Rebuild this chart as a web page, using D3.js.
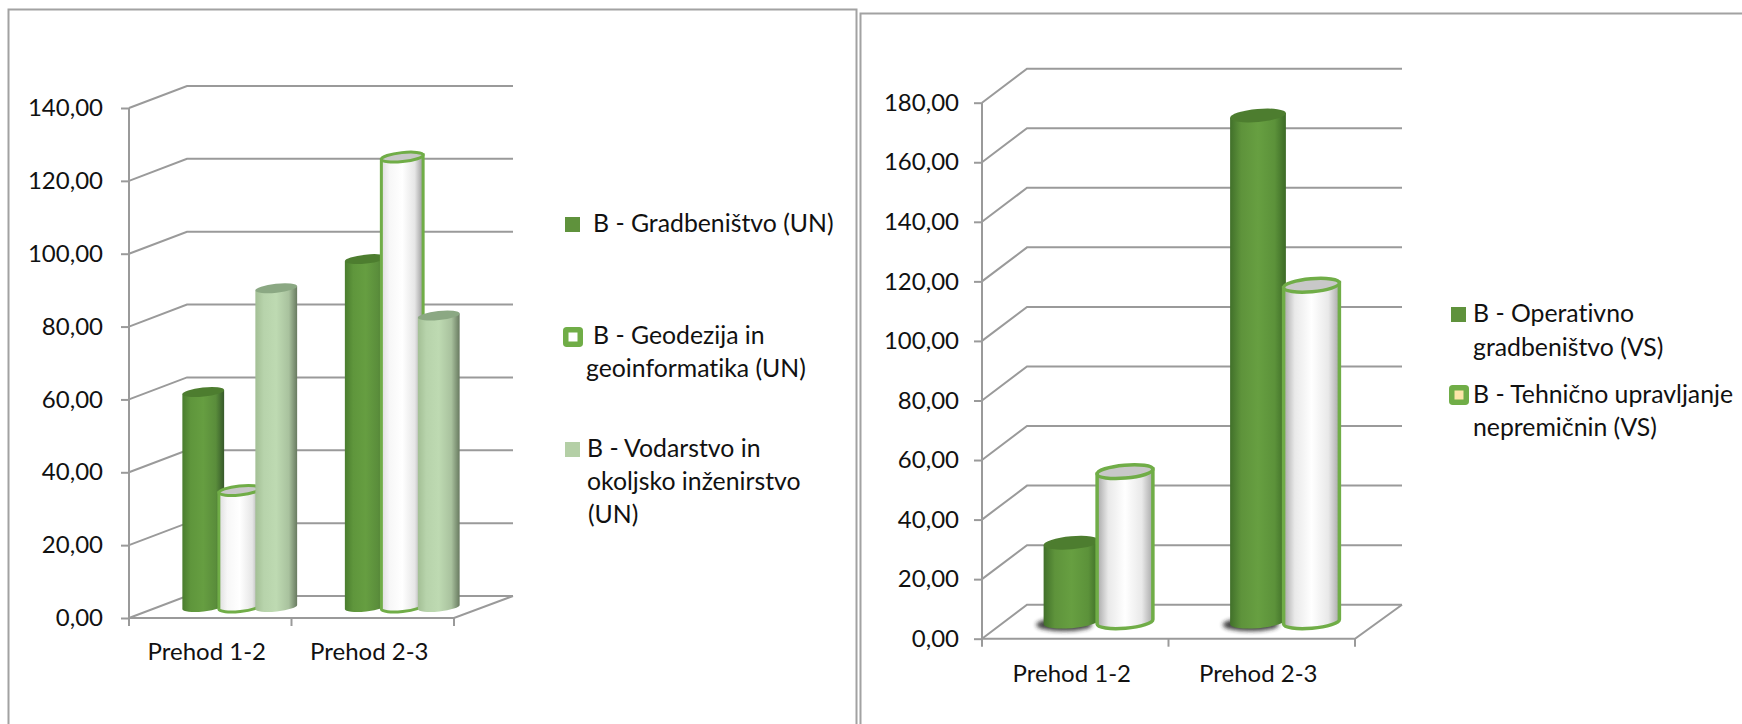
<!DOCTYPE html>
<html>
<head>
<meta charset="utf-8">
<script src="https://cdn.jsdelivr.net/npm/d3@7/dist/d3.min.js"></script>
<style>
  html, body { margin: 0; padding: 0; background: #fff; overflow: hidden; }
  text { font-family: Lato, "Open Sans", sans-serif; fill: #111; font-variant-ligatures: none; }
</style>
</head>
<body>
<svg id="chart" width="1742" height="724"></svg>
<script>
const categories = ['Prehod 1-2', 'Prehod 2-3'];

const leftTicks = [0, 20, 40, 60, 80, 100, 120, 140];
const gradbenistvoUN = [59, 95.5];
const geodezijaUN = [32, 123.5];
const vodarstvoUN = [87.5, 80];

const rightTicks = [0, 20, 40, 60, 80, 100, 120, 140, 160, 180];
const operativnoVS = [26.5, 170];
const tehnicnoVS = [50.4, 113];

const solidDark = { edgeL: '#4a7d2e', mid: '#669e41', edgeR: '#36592a', cap: '#4d7d2f' };
const solidDarkEven = { edgeL: '#41702a', mid: '#679f41', edgeR: '#3c6a26', cap: '#4d7d2f' };
const solidLight = { edgeL: '#a3bf95', mid: '#bedab2', edgeR: '#687a60', cap: '#8ba883' };
const hollowRight = { edgeL: '#dddddd', mid: '#ffffff', edgeR: '#999999', cap: '#c8c8c8', stroke: '#70ad47' };
const hollowBoth = { edgeL: '#a8a8a8', mid: '#ffffff', edgeR: '#a8a8a8', cap: '#c8c8c8', stroke: '#70ad47' };

const fmt = d3.formatLocale({ decimal: ',', thousands: '.', grouping: [3], currency: ['', ''] }).format('.2f');
const svg = d3.select('#chart');
const defs = svg.append('defs');

defs.append('filter').attr('id', 'base-shadow')
  .attr('x', '-30%').attr('y', '-60%').attr('width', '160%').attr('height', '220%')
  .append('feGaussianBlur').attr('stdDeviation', 2.2);

// page frames around the two pasted charts
svg.append('path')
  .attr('d', 'M8.5,724V9.5H856.5V724')
  .attr('fill', 'none').attr('stroke', '#a2a2a2').attr('stroke-width', 2);
svg.append('path')
  .attr('d', 'M860.5,724V13.5H1742')
  .attr('fill', 'none').attr('stroke', '#a2a2a2').attr('stroke-width', 2);

function gradient(id, style) {
  const g = defs.append('linearGradient').attr('id', id).attr('x1', 0).attr('x2', 1).attr('y1', 0).attr('y2', 0);
  [[0, style.edgeL], [0.2, d3.interpolateRgb(style.edgeL, style.mid)(0.75)], [0.5, style.mid],
    [0.8, d3.interpolateRgb(style.mid, style.edgeR)(0.25)], [1, style.edgeR]]
    .forEach(([o, c]) => g.append('stop').attr('offset', o).attr('stop-color', c));
}

function drawChart(id, {
  ticks, series, x0, x1, yTop, yBottom, depthX, depthY, gridEnd,
  barWidth, barStep, barShift, ry, tilt, strokeWidth, labelPad, labelY, shadow,
}) {
  const root = svg.append('g').attr('class', id);
  const x = d3.scaleBand().domain(categories).range([x0, x1]);
  const y = d3.scaleLinear().domain([0, d3.max(ticks)]).range([yBottom, yTop]);
  const seriesX = d3.scaleBand().domain(series.map(s => s.name))
    .range([0, barStep * series.length]).paddingInner(0).paddingOuter(0);

  // side wall and back wall lines
  const lineColor = '#9a9a9a';
  const walls = root.append('g').attr('fill', 'none').attr('stroke', lineColor).attr('stroke-width', 2);
  walls.selectAll('path.grid').data(ticks).join('path').attr('class', 'grid')
    .attr('d', d => `M${x0},${y(d)}L${x0 + depthX},${y(d) - depthY}H${gridEnd}`);
  walls.append('path').attr('d', `M${x0},${y(d3.max(ticks))}V${yBottom}H${x1}L${gridEnd},${yBottom - depthY}`);
  walls.selectAll('path.xtick').data([x0, x0 + x.step(), x1]).join('path').attr('class', 'xtick')
    .attr('d', d => `M${d},${yBottom}v8`);

  const axisY = root.append('g').attr('transform', `translate(${x0},0)`)
    .call(d3.axisLeft(y).tickValues(ticks).tickFormat(fmt).tickSize(8).tickPadding(labelPad));
  axisY.select('.domain').remove();
  axisY.selectAll('line').attr('stroke', lineColor).attr('stroke-width', 2);
  axisY.selectAll('text').attr('font-size', 24).attr('font-family', 'Lato').attr('fill', '#111');

  const axisX = root.append('g').attr('transform', `translate(-3.5,${labelY})`)
    .call(d3.axisBottom(x).tickSize(0).tickPadding(0));
  axisX.select('.domain').remove();
  axisX.selectAll('text').attr('font-size', 24).attr('font-family', 'Lato').attr('fill', '#111').attr('dy', 0);

  const rad = tilt * Math.PI / 180;
  const dx = barWidth / 2 * Math.cos(rad);
  const dy = barWidth / 2 * Math.sin(rad);

  categories.forEach((cat, ci) => {
    series.forEach((s, si) => {
      const gid = `${id}-${si}-${ci}`;
      gradient(gid, s.style);
      const cx = x(cat) + x.bandwidth() / 2 + depthX / 2 + barShift
        + seriesX(s.name) + seriesX.bandwidth() / 2 - barStep * series.length / 2;
      const base = yBottom - depthY / 2;
      const top = y(s.values[ci]) - depthY / 2;
      const bar = root.append('g');
      if (shadow && !s.style.stroke) {
        bar.append('ellipse')
          .attr('cx', cx - barWidth * 0.13).attr('cy', base + 3)
          .attr('rx', barWidth / 2).attr('ry', ry)
          .attr('fill', '#222').attr('opacity', 0.85)
          .attr('filter', 'url(#base-shadow)');
      }
      bar.append('path')
        .attr('d', `M${cx - dx},${top + dy}L${cx - dx},${base + dy}`
          + `A${barWidth / 2},${ry} ${-tilt} 0 0 ${cx + dx},${base - dy}L${cx + dx},${top - dy}Z`)
        .attr('fill', `url(#${gid})`)
        .attr('stroke', s.style.stroke || 'none')
        .attr('stroke-width', strokeWidth);
      bar.append('ellipse')
        .attr('transform', `translate(${cx},${top}) rotate(${-tilt})`)
        .attr('rx', barWidth / 2).attr('ry', ry)
        .attr('fill', s.style.cap)
        .attr('stroke', s.style.stroke || 'none')
        .attr('stroke-width', strokeWidth);
    });
  });
}

function drawLegend(items) {
  const g = svg.append('g').attr('class', 'legend');
  items.forEach(item => {
    if (item.hollow) {
      g.append('rect').attr('x', item.sx + 2.75).attr('y', item.sy + 2.75)
        .attr('width', item.size - 5.5).attr('height', item.size - 5.5).attr('rx', 1)
        .attr('fill', item.inner).attr('stroke', '#70ad47').attr('stroke-width', 5.5);
    } else {
      g.append('rect').attr('x', item.sx).attr('y', item.sy)
        .attr('width', item.size).attr('height', item.size).attr('fill', item.color);
    }
    item.lines.forEach(([t, tx, ty]) => {
      g.append('text').attr('x', tx).attr('y', ty).attr('font-size', 24.8).text(t);
    });
  });
}

drawChart('left', {
  ticks: leftTicks,
  series: [
    { name: 'B - Gradbeništvo (UN)', values: gradbenistvoUN, style: solidDark },
    { name: 'B - Geodezija in geoinformatika (UN)', values: geodezijaUN, style: hollowRight },
    { name: 'B - Vodarstvo in okoljsko inženirstvo (UN)', values: vodarstvoUN, style: solidLight },
  ],
  x0: 129, x1: 454, yTop: 108, yBottom: 618, depthX: 58, depthY: 22, gridEnd: 513,
  barWidth: 42, barStep: 36.5, barShift: 0.5, ry: 4.5, tilt: 6, strokeWidth: 3,
  labelPad: 18, labelY: 660, shadow: false,
});

drawChart('right', {
  ticks: rightTicks,
  series: [
    { name: 'B - Operativno gradbeništvo (VS)', values: operativnoVS, style: solidDarkEven },
    { name: 'B - Tehnično upravljanje nepremičnin (VS)', values: tehnicnoVS, style: hollowBoth },
  ],
  x0: 982, x1: 1355, yTop: 102.7, yBottom: 638.7, depthX: 45, depthY: 34, gridEnd: 1402,
  barWidth: 56, barStep: 53.5, barShift: 0.5, ry: 6.5, tilt: 5, strokeWidth: 3.5,
  labelPad: 15, labelY: 682, shadow: true,
});

drawLegend([
  { sx: 565, sy: 217, size: 15, color: '#5f923c', lines: [['B - Gradbeništvo (UN)', 593, 232]] },
  { sx: 563, sy: 327, size: 20, hollow: true, inner: '#fff',
    lines: [['B - Geodezija in', 593, 344], ['geoinformatika (UN)', 586, 377]] },
  { sx: 565, sy: 442, size: 15, color: '#b4cfa6',
    lines: [['B - Vodarstvo in', 587, 457], ['okoljsko inženirstvo', 587, 490], ['(UN)', 588, 523]] },
  { sx: 1451, sy: 307, size: 15, color: '#5f923c',
    lines: [['B - Operativno', 1473, 322], ['gradbeništvo (VS)', 1473, 356]] },
  { sx: 1449, sy: 385, size: 20, hollow: true, inner: '#fbe5a8',
    lines: [['B - Tehnično upravljanje', 1473, 403], ['nepremičnin (VS)', 1473, 436]] },
]);
</script>
</body>
</html>
